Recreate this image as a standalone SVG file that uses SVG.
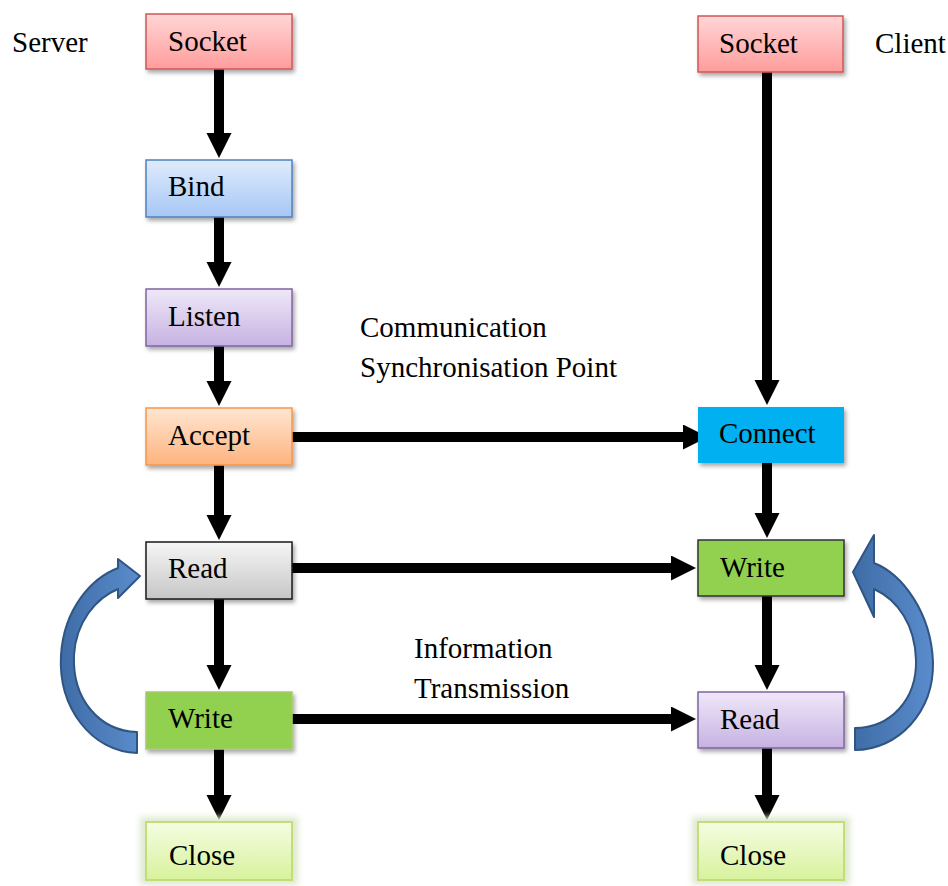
<svg xmlns="http://www.w3.org/2000/svg" width="948" height="886" viewBox="0 0 948 886">
  <defs>
    <linearGradient id="gRed" x1="0" y1="0" x2="0" y2="1">
      <stop offset="0" stop-color="#ffd6d6"/>
      <stop offset="1" stop-color="#ff9c9c"/>
    </linearGradient>
    <linearGradient id="gBlue" x1="0" y1="0" x2="0" y2="1">
      <stop offset="0" stop-color="#dfebfc"/>
      <stop offset="1" stop-color="#a6c7f5"/>
    </linearGradient>
    <linearGradient id="gPurple" x1="0" y1="0" x2="0" y2="1">
      <stop offset="0" stop-color="#efe8f8"/>
      <stop offset="1" stop-color="#c6b2e2"/>
    </linearGradient>
    <linearGradient id="gOrange" x1="0" y1="0" x2="0" y2="1">
      <stop offset="0" stop-color="#ffe6d2"/>
      <stop offset="1" stop-color="#fdb37e"/>
    </linearGradient>
    <linearGradient id="gGray" x1="0" y1="0" x2="0" y2="1">
      <stop offset="0" stop-color="#f6f6f6"/>
      <stop offset="1" stop-color="#c6c6c6"/>
    </linearGradient>
    <linearGradient id="gLime" x1="0" y1="0" x2="0" y2="1">
      <stop offset="0" stop-color="#f5fde2"/>
      <stop offset="1" stop-color="#d7f29c"/>
    </linearGradient>
    <linearGradient id="gArc" x1="0" y1="0" x2="1" y2="0">
      <stop offset="0" stop-color="#3f6ca6"/>
      <stop offset="1" stop-color="#5a8ccc"/>
    </linearGradient>
    <filter id="shadow" x="-10%" y="-20%" width="130%" height="160%">
      <feDropShadow dx="2" dy="3" stdDeviation="2" flood-color="#000" flood-opacity="0.35"/>
    </filter>
    <filter id="halo" x="-20%" y="-40%" width="140%" height="180%">
      <feGaussianBlur stdDeviation="3"/>
    </filter>
    <marker id="head" markerUnits="userSpaceOnUse" markerWidth="26" markerHeight="26" refX="2" refY="12.5" orient="auto">
      <path d="M0,0 L25,12.5 L0,25 Z" fill="#000"/>
    </marker>
  </defs>
  <style>
    .lbl { font-family: "Liberation Serif", "Times New Roman", serif; font-size: 29px; fill: #000; }
    .box { filter: url(#shadow); }
    .wire { stroke: #000; stroke-width: 10; fill: none; marker-end: url(#head); }
    .arc { fill: url(#gArc); stroke: #2f5583; stroke-width: 2; stroke-linejoin: round; }
  </style>

  <!-- side captions -->
  <text class="lbl" x="12" y="52">Server</text>
  <text class="lbl" x="875" y="53">Client</text>
  <text class="lbl" x="360" y="337">Communication</text>
  <text class="lbl" x="360" y="377">Synchronisation Point</text>
  <text class="lbl" x="414" y="658">Information</text>
  <text class="lbl" x="414" y="698">Transmission</text>

  <!-- connectors -->
  <g id="connectors">
    <!-- server column -->
    <line class="wire" x1="219" y1="69" x2="219" y2="135"/>
    <line class="wire" x1="219" y1="217" x2="219" y2="264"/>
    <line class="wire" x1="219" y1="346" x2="219" y2="383"/>
    <line class="wire" x1="219" y1="465" x2="219" y2="517"/>
    <line class="wire" x1="219" y1="599" x2="219" y2="667"/>
    <line class="wire" x1="219" y1="749" x2="219" y2="797"/>
    <!-- client column -->
    <line class="wire" x1="767" y1="72" x2="767" y2="382"/>
    <line class="wire" x1="767" y1="463" x2="767" y2="515"/>
    <line class="wire" x1="767" y1="596" x2="767" y2="667"/>
    <line class="wire" x1="767" y1="748" x2="767" y2="797"/>
    <!-- across -->
    <line class="wire" x1="292" y1="437" x2="685" y2="437"/>
    <line class="wire" x1="292" y1="568" x2="673" y2="568"/>
    <line class="wire" x1="292" y1="719" x2="673" y2="719"/>
    <!-- loop arrows -->
    <path class="arc" d="M137,753 C92,752 58,708 61,655 C64,608 92,578 118,568 L118,559 L140,576 L118,598 L118,589 C96,598 76,622 74,655 C72,700 100,731 137,732 Z"/>
    <path class="arc" d="M855,750 C898,750 934,712 933,662 C931,612 902,574 874,563 L874,535 L853,572 L874,617 L874,589 C898,600 915,625 916,660 C917,700 890,728 855,728 Z"/>
  </g>

  <!-- server nodes -->
  <g id="srv-socket">
    <rect class="box" x="146" y="14" width="146" height="55" fill="url(#gRed)" stroke="#cf5757" stroke-width="1.5"/>
    <text class="lbl" x="168" y="51">Socket</text>
  </g>
  <g id="srv-bind">
    <rect class="box" x="146" y="160" width="146" height="57" fill="url(#gBlue)" stroke="#4f81bd" stroke-width="1.5"/>
    <text class="lbl" x="168" y="196">Bind</text>
  </g>
  <g id="srv-listen">
    <rect class="box" x="146" y="289" width="146" height="57" fill="url(#gPurple)" stroke="#8064a2" stroke-width="1.5"/>
    <text class="lbl" x="168" y="326">Listen</text>
  </g>
  <g id="srv-accept">
    <rect class="box" x="146" y="408" width="146" height="57" fill="url(#gOrange)" stroke="#f79646" stroke-width="1.5"/>
    <text class="lbl" x="168" y="445">Accept</text>
  </g>
  <g id="srv-read">
    <rect class="box" x="146" y="542" width="146" height="57" fill="url(#gGray)" stroke="#1a1a1a" stroke-width="1.5"/>
    <text class="lbl" x="168" y="578">Read</text>
  </g>
  <g id="srv-write">
    <rect class="box" x="146" y="692" width="146" height="57" fill="#92d050" stroke="#a9c96b" stroke-width="1.5"/>
    <text class="lbl" x="168" y="728">Write</text>
  </g>
  <g id="srv-close">
    <rect x="140" y="817" width="158" height="68" fill="#dfe8cf" filter="url(#halo)"/>
    <rect x="146" y="822" width="146" height="58" fill="url(#gLime)" stroke="#c2de7a" stroke-width="2"/>
    <text class="lbl" x="169" y="865">Close</text>
  </g>

  <!-- client nodes -->
  <g id="cli-socket">
    <rect class="box" x="698" y="16" width="145" height="56" fill="url(#gRed)" stroke="#cf5757" stroke-width="1.5"/>
    <text class="lbl" x="719" y="53">Socket</text>
  </g>
  <g id="cli-connect">
    <rect class="box" x="698" y="407" width="146" height="56" fill="#00b0f0"/>
    <text class="lbl" x="719" y="443">Connect</text>
  </g>
  <g id="cli-write">
    <rect class="box" x="698" y="540" width="146" height="56" fill="#92d050" stroke="#333" stroke-width="1.5"/>
    <text class="lbl" x="720" y="577">Write</text>
  </g>
  <g id="cli-read">
    <rect class="box" x="698" y="692" width="146" height="56" fill="url(#gPurple)" stroke="#8064a2" stroke-width="1.5"/>
    <text class="lbl" x="720" y="729">Read</text>
  </g>
  <g id="cli-close">
    <rect x="692" y="817" width="158" height="68" fill="#dfe8cf" filter="url(#halo)"/>
    <rect x="698" y="822" width="146" height="58" fill="url(#gLime)" stroke="#c2de7a" stroke-width="2"/>
    <text class="lbl" x="720" y="865">Close</text>
  </g>
</svg>
